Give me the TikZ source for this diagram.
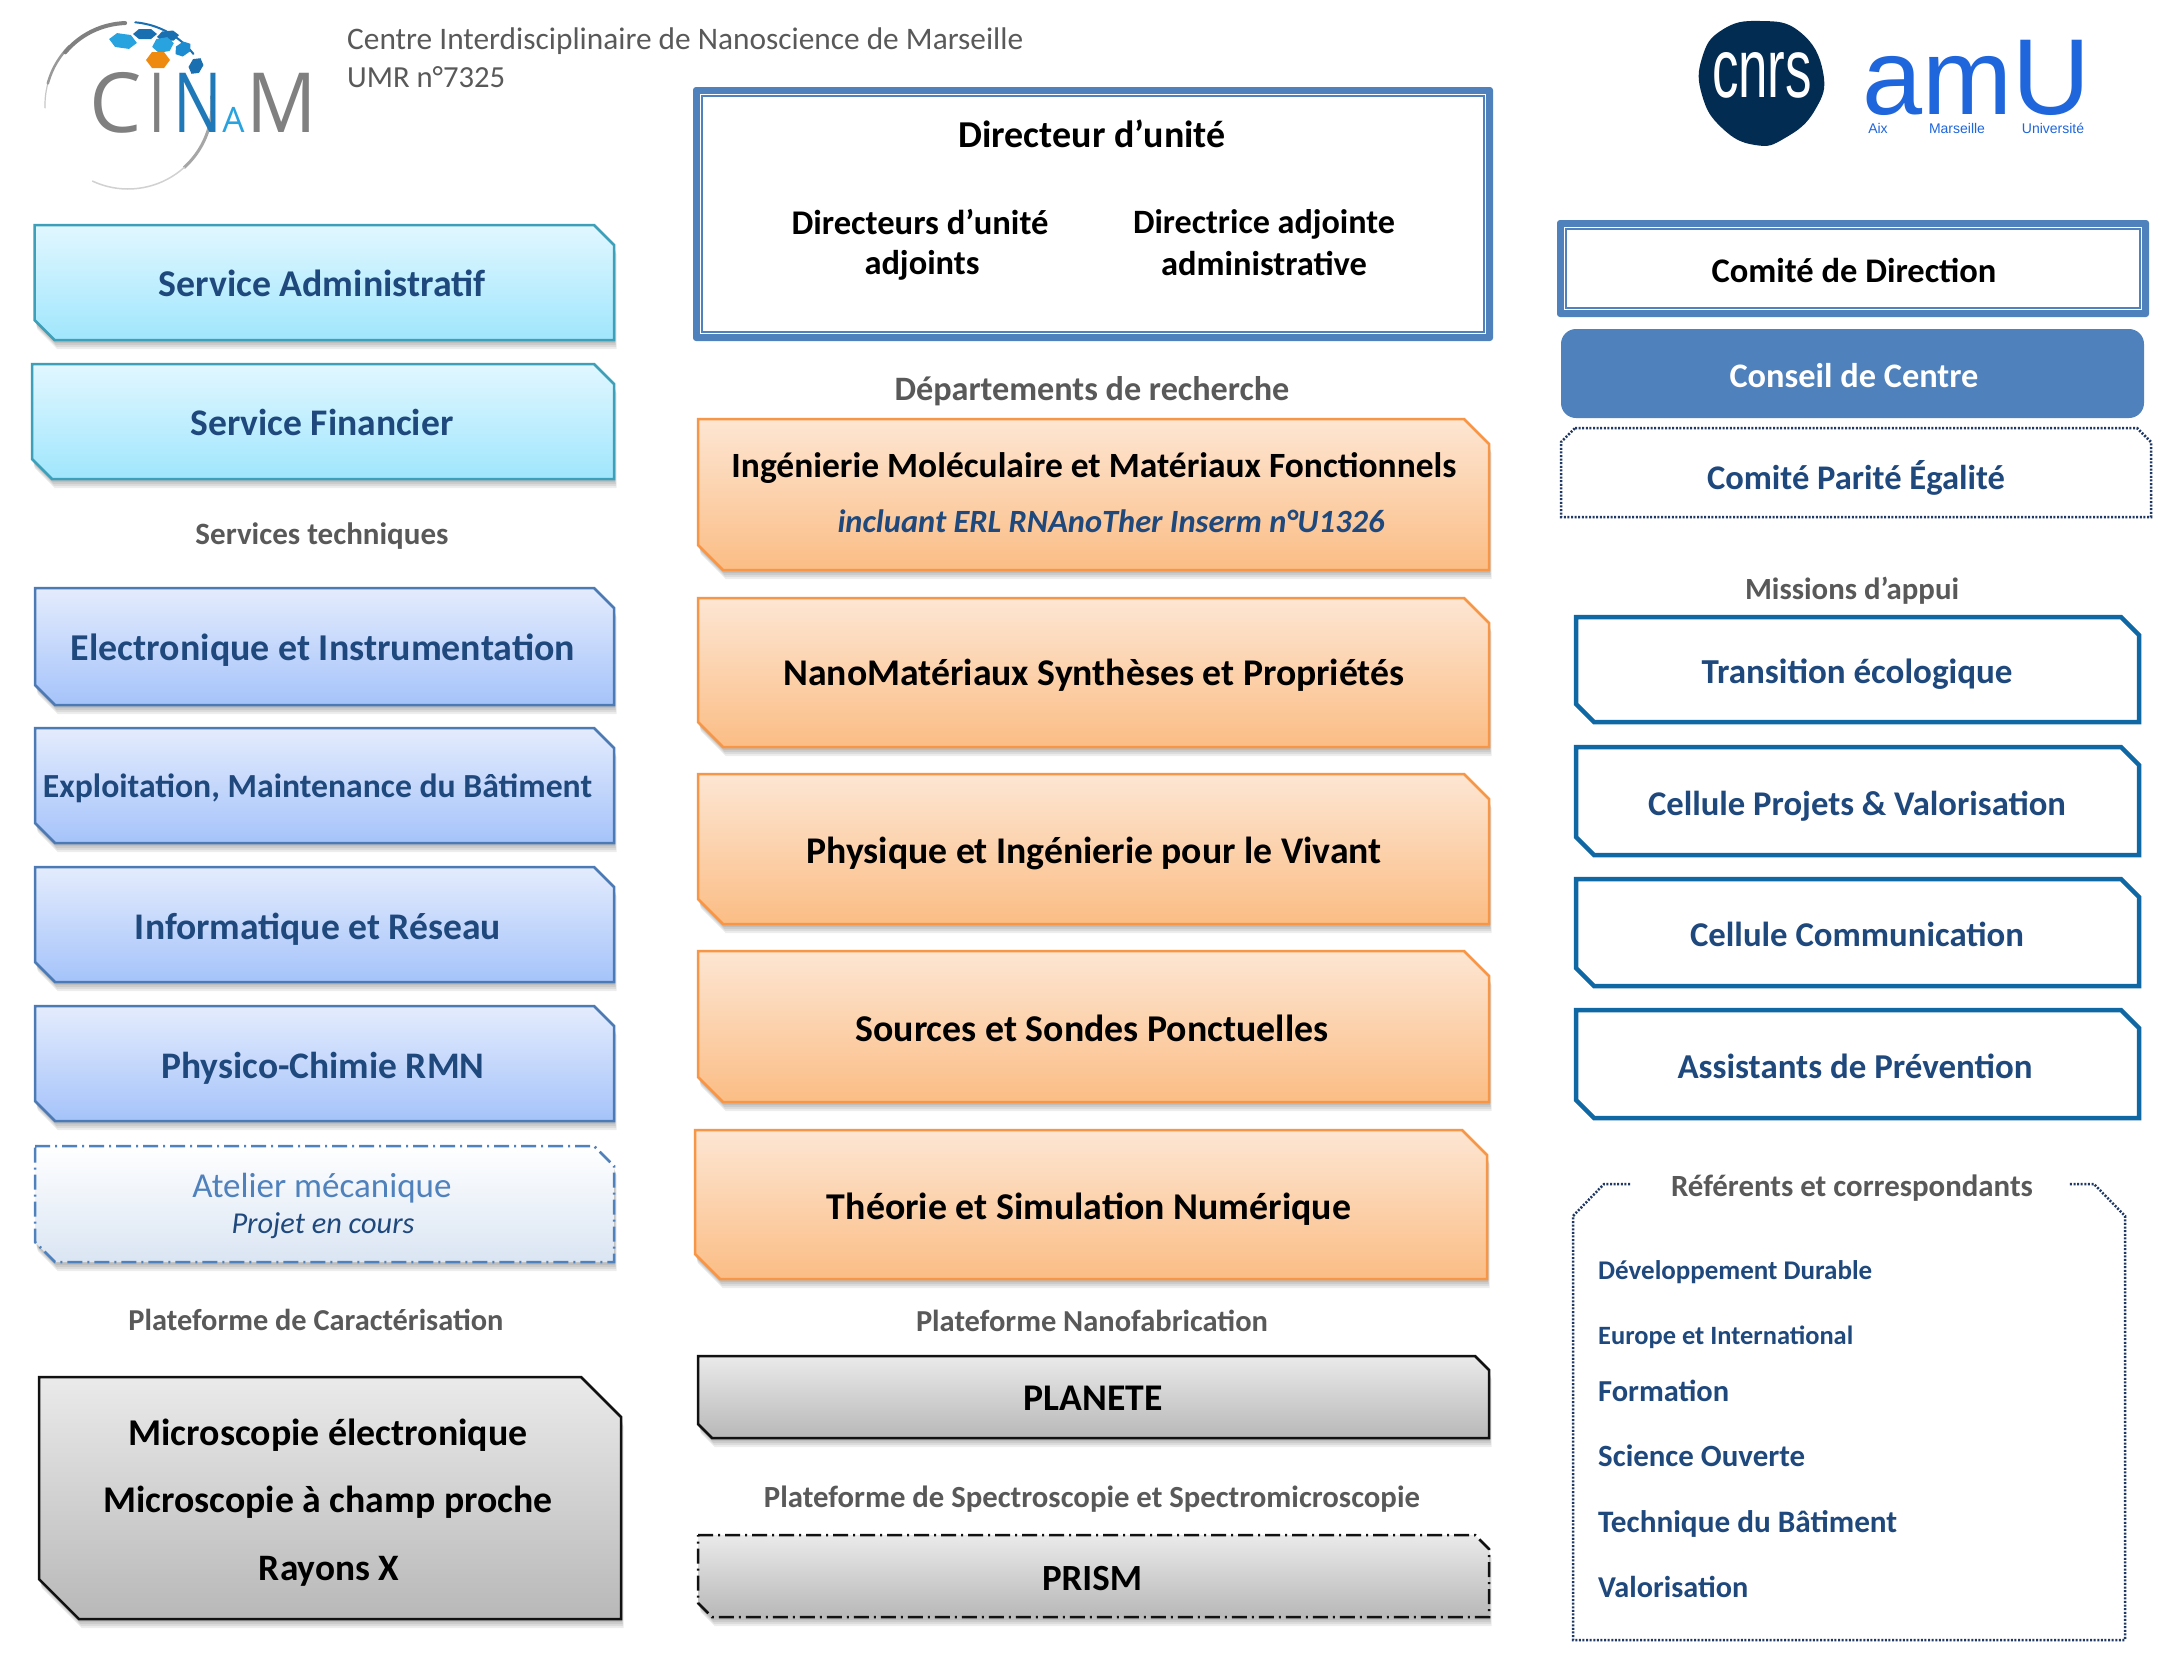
\documentclass[tikz,border=0pt]{standalone}
\usepackage{fontspec}
\usepackage{graphicx}
\setmainfont{Carlito}
\newfontfamily\arialf{Liberation Sans}
\newfontfamily\opensf{Open Sans}
\definecolor{navy}{HTML}{1F497D}
\definecolor{greytxt}{HTML}{595959}
\definecolor{frameblue}{HTML}{4F81BD}
\definecolor{teal}{HTML}{0F67A3}
\definecolor{dotnavy}{HTML}{1F3864}
\definecolor{amublue}{HTML}{1F66DC}
\definecolor{cnrsnavy}{HTML}{032C52}
\definecolor{cyantop}{HTML}{E1F7FF}
\definecolor{cyanbot}{HTML}{A0E6FD}
\definecolor{cyanedge}{HTML}{3EA0B8}
\definecolor{bluetop}{HTML}{E4ECFD}
\definecolor{bluebot}{HTML}{A5C3FA}
\definecolor{blueedge}{HTML}{4C7AB5}
\definecolor{atbot}{HTML}{DAE5F3}
\definecolor{ortop}{HTML}{FDE6D3}
\definecolor{orbot}{HTML}{FBBD85}
\definecolor{oredge}{HTML}{F79646}
\definecolor{grtop}{HTML}{EAEAEA}
\definecolor{grbot}{HTML}{B8B8B8}
\definecolor{gredge}{HTML}{111111}
\definecolor{logodark}{HTML}{1A6FB0}
\definecolor{logolight}{HTML}{29A3DF}
\definecolor{logomid}{HTML}{1C8BD0}
\definecolor{logoor}{HTML}{EE8A10}
\definecolor{logon}{HTML}{1F79B8}
\tikzset{
  base/.style={inner sep=0pt},
  bold/.style={base,font=\fontsize{30}{36}\selectfont\bfseries},
  regular/.style={base,font=\fontsize{30}{36}\selectfont},
  ital/.style={base,font=\fontsize{30}{36}\selectfont\itshape},
  boldital/.style={base,font=\fontsize{30}{36}\selectfont\bfseries\itshape},
  cyanbox/.style={top color=cyantop,bottom color=cyanbot,draw=cyanedge,line width=2.5pt},
  bluebox/.style={top color=bluetop,bottom color=bluebot,draw=blueedge,line width=2.5pt},
  atelierbox/.style={top color=white,bottom color=atbot,draw=frameblue,line width=2.5pt,dash pattern=on 15pt off 5pt on 2pt off 5pt},
  orangebox/.style={top color=ortop,bottom color=orbot,draw=oredge,line width=2.5pt},
  greybox/.style={top color=grtop,bottom color=grbot,draw=gredge,line width=2.5pt},
  greydash/.style={greybox,dash pattern=on 15pt off 5pt on 2pt off 5pt},
  whitebox/.style={draw=teal,line width=4.5pt,fill=white},
  dotline/.style={draw=dotnavy,line width=2.5pt,dash pattern=on 2pt off 1.6pt},
  logoarc/.style={line cap=round},
  logoletter/.style={base,anchor=base,font=\fontsize{83}{83}\selectfont\opensf},
}
\newcommand\snippath[5]{(#1,#2) -- ({#3-#5},#2) -- (#3,{#2+#5}) -- (#3,#4) -- ({#1+#5},#4) -- (#1,{#4-#5}) -- cycle}
% name, x1, y1, x2, y2, cut, style
\newcommand\snipbox[7]{%
  \foreach \s in {3,5,7,9}{\fill[black,opacity=.07,shift={(0.3*\s,\s)}] \snippath{#2}{#3}{#4}{#5}{#6};}
  \path[#7] \snippath{#2}{#3}{#4}{#5}{#6};
  \coordinate (#1) at ({(#2+#4)/2},{(#3+#5)/2});
}
% name, x, y, width, style, text
\newcommand\lab[6]{\node[#5] (#1) at (#2,#3) {\resizebox{#4pt}{!}{#6}};}
% name, x1,y1,x2,y2
\newcommand\dframe[5]{%
  \fill[frameblue,rounded corners=3pt] (#2,#3) rectangle (#4,#5);
  \fill[white] ({#2+7},{#3+7}) rectangle ({#4-7},{#5-7});
  \draw[frameblue,line width=1.3pt] ({#2+9},{#3+9}) rectangle ({#4-9},{#5-9});
  \coordinate (#1) at ({(#2+#4)/2},{(#3+#5)/2});
}
\newcommand\hexa[6]{% x,y,rx,ry,rot,colour
  \fill[#6,rotate around={#5:(#1,#2)}] ({#1-#3},#2) -- ({#1-0.5*#3},{#2-#4}) -- ({#1+0.5*#3},{#2-#4}) -- ({#1+#3},#2) -- ({#1+0.5*#3},{#2+#4}) -- ({#1-0.5*#3},{#2+#4}) -- cycle;
}
\begin{document}
\begin{tikzpicture}[x=1pt,y=-1pt]
\useasboundingbox (0,0) rectangle (2164,1666);
\fill[white] (0,0) rectangle (2164,1666);

% ---- CINaM logo
\draw[logoarc,black!22,line width=1.2pt] plot[domain=182:150,samples=20] ({128+83*cos(\x)},{105-83*sin(\x)});
\draw[logoarc,black!40,line width=2.5pt] plot[domain=165:135,samples=20] ({128+83*cos(\x)},{105-83*sin(\x)});
\draw[logoarc,black!50,line width=4pt] plot[domain=140:92,samples=20] ({128+82*cos(\x)},{105-82*sin(\x)});
\draw[logoarc,logodark,line width=2pt] plot[domain=85:38,samples=20] ({128+83*cos(\x)},{105-83*sin(\x)});
\draw[logoarc,black!35,line width=3pt] plot[domain=6:-48,samples=20] ({128+84*cos(\x)},{105-84*sin(\x)});
\draw[logoarc,black!18,line width=1.5pt] plot[domain=-48:-115,samples=20] ({128+84*cos(\x)},{105-84*sin(\x)});
\hexa{123}{41}{14}{7}{-8}{logolight}
\hexa{145}{34}{12}{5}{0}{logodark}
\hexa{168}{36}{11}{5}{5}{logodark}
\hexa{163}{45}{11}{7}{10}{logolight}
\hexa{183}{49}{9}{6}{35}{logomid}
\hexa{158}{60}{12}{8}{0}{logoor}
\hexa{196}{66}{9}{6}{60}{logodark}
\node[logoletter,text=black!50] (logoC) at (116,132) {C};
\node[logoletter,text=black!50] (logoI) at (157.5,132) {\scalebox{0.75}[1]{I}};
\node[logoletter,text=logon] (logoN) at (198,132) {\scalebox{0.78}[1]{N}};
\node[logoletter,text=logolight,font=\fontsize{35}{35}\selectfont\opensf] (logoA) at (233.5,132) {A};
\node[logoletter,text=black!50] (logoM) at (281.5,132) {\scalebox{0.94}[1]{M}};

% ---- header
\node[regular,text=greytxt,anchor=west] (hdrA) at (347,41) {\resizebox{676pt}{!}{Centre Interdisciplinaire de Nanoscience de Marseille}};
\node[regular,text=greytxt,anchor=west] (hdrB) at (347,77) {\resizebox{158pt}{!}{UMR n°7325}};

% ---- CNRS and AMU logos
\fill[cnrsnavy] plot[smooth cycle,tension=0.8] coordinates {(1760,21) (1800,32) (1823,72) (1815,110) (1785,138) (1755,145) (1722,128) (1702,95) (1702,58) (1722,30)};
\node[base,font=\arialf,text=white] (cnrs) at (1762,75.5) {\resizebox{100pt}{45pt}{cnrs}};
\node[base,font=\fontsize{100}{100}\selectfont\arialf,text=amublue,anchor=base west] (amu) at (1862,114) {\resizebox{228pt}{!}{amU}};
\node[base,font=\fontsize{14}{14}\selectfont\arialf,text=amublue] (amuA) at (1878,128) {Aix};
\node[base,font=\fontsize{14}{14}\selectfont\arialf,text=amublue] (amuB) at (1957,128) {Marseille};
\node[base,font=\fontsize{14}{14}\selectfont\arialf,text=amublue] (amuC) at (2053,128) {Université};

% ---- left column
\snipbox{boxSA}{34.5}{225}{614}{340}{20}{cyanbox}
\lab{txtSA}{322}{283}{327}{bold,text=navy}{Service Administratif}
\snipbox{boxSF}{32}{364}{614}{479}{20}{cyanbox}
\lab{txtSF}{322}{422}{263}{bold,text=navy}{Service Financier}
\lab{txtST}{322}{536}{253}{bold,text=greytxt}{Services techniques}
\snipbox{boxEI}{35}{588}{614}{705}{20}{bluebox}
\lab{txtEI}{323}{650}{504}{bold,text=navy}{Electronique et Instrumentation}
\snipbox{boxEM}{35}{728}{614}{843}{20}{bluebox}
\lab{txtEM}{317.5}{788}{549}{bold,text=navy}{Exploitation, Maintenance du Bâtiment}
\snipbox{boxIR}{35}{867}{614}{982}{20}{bluebox}
\lab{txtIR}{318}{929.5}{366}{bold,text=navy}{Informatique et Réseau}
\snipbox{boxPC}{35}{1006}{614}{1121}{20}{bluebox}
\lab{txtPC}{323}{1068}{323}{bold,text=navy}{Physico-Chimie RMN}
\snipbox{boxAM}{35}{1146}{614}{1262}{20}{atelierbox}
\lab{txtAM}{322}{1188}{259}{regular,text=frameblue}{Atelier mécanique}
\lab{txtPR}{323}{1226}{183}{ital,text=navy}{Projet en cours}
\lab{txtPCa}{316}{1320}{375}{bold,text=greytxt}{Plateforme de Caractérisation}
\snipbox{boxMI}{39}{1377}{621}{1619}{40}{greybox}
\lab{txtMa}{328}{1435}{399}{bold,text=black}{Microscopie électronique}
\lab{txtMb}{328}{1502}{449}{bold,text=black}{Microscopie à champ proche}
\lab{txtMc}{329}{1571}{140}{bold,text=black}{Rayons X}

% ---- centre column
\dframe{boxDU}{693}{87}{1493}{341}
\lab{txtDU}{1092}{134}{267}{bold,text=black}{Directeur d’unité}
\lab{txtDUa}{920}{222.5}{257}{bold,text=black}{Directeurs d’unité}
\lab{txtDUb}{922}{265}{115}{bold,text=black}{adjoints}
\lab{txtDAa}{1264}{224}{262}{bold,text=black}{Directrice adjointe}
\lab{txtDAb}{1264}{264}{206}{bold,text=black}{administrative}
\lab{txtDR}{1092}{391}{395}{bold,text=greytxt}{Départements de recherche}
\snipbox{boxO1}{698}{419}{1489}{570}{25}{orangebox}
\lab{txtO1}{1094}{468}{725}{bold,text=black}{Ingénierie Moléculaire et Matériaux Fonctionnels}
\lab{txtO1b}{1111}{521}{547}{boldital,text=navy}{incluant  ERL RNAnoTher Inserm n°U1326}
\snipbox{boxO2}{698}{598}{1489}{747}{25}{orangebox}
\lab{txtO2}{1094}{675}{621}{bold,text=black}{NanoMatériaux Synthèses et Propriétés}
\snipbox{boxO3}{698}{774}{1489}{924}{25}{orangebox}
\lab{txtO3}{1094}{853}{575}{bold,text=black}{Physique et Ingénierie pour le Vivant}
\snipbox{boxO4}{698}{951}{1489}{1102}{25}{orangebox}
\lab{txtO4}{1092}{1028}{473}{bold,text=black}{Sources et Sondes Ponctuelles}
\snipbox{boxO5}{695}{1130}{1487}{1279}{25}{orangebox}
\lab{txtO5}{1089}{1209}{524}{bold,text=black}{Théorie et Simulation Numérique}
\lab{txtPN}{1092}{1321}{352}{bold,text=greytxt}{Plateforme Nanofabrication}
\snipbox{boxPL}{698}{1356}{1489}{1438}{14}{greybox}
\lab{txtPL}{1093}{1398}{139}{bold,text=black}{PLANETE}
\lab{txtPS}{1092}{1499}{656}{bold,text=greytxt}{Plateforme de Spectroscopie et Spectromicroscopie}
\snipbox{boxPR}{698}{1535}{1489}{1617}{14}{greydash}
\lab{txtPRI}{1092}{1578}{100}{bold,text=black}{PRISM}

% ---- right column
\dframe{boxCD}{1557}{220}{2149}{317}
\lab{txtCD}{1854}{270}{285}{bold,text=black}{Comité de Direction}
\fill[frameblue,rounded corners=15pt] (1561,329) rectangle (2144,418);
\coordinate (boxCC) at (1852,373);
\lab{txtCC}{1854}{376}{249}{bold,text=white}{Conseil de Centre}
\path[dotline] (1575,428) -- (2137,428) -- (2151,442) -- (2151,517) -- (1561,517) -- (1561,442) -- cycle;
\coordinate (boxCP) at (1857,472);
\lab{txtCP}{1856}{478}{298}{bold,text=navy}{Comité Parité Égalité}
\lab{txtMA}{1852}{591}{214}{bold,text=greytxt}{Missions  d’appui}
\path[whitebox] \snippath{1576}{617}{2139}{722}{18};
\lab{txtW1}{1857}{674}{311}{bold,text=navy}{Transition écologique}
\path[whitebox] \snippath{1576}{747}{2139}{855}{18};
\lab{txtW2}{1857}{806}{418}{bold,text=navy}{Cellule Projets \& Valorisation}
\path[whitebox] \snippath{1576}{879}{2139}{986}{18};
\lab{txtW3}{1857}{934}{334}{bold,text=navy}{Cellule Communication}
\path[whitebox] \snippath{1576}{1010}{2139}{1118}{18};
\lab{txtW4}{1855}{1066}{355}{bold,text=navy}{Assistants de Prévention}
\path[dotline] (1630,1184) -- (1604,1184) -- (1573,1216) -- (1573,1640) -- (2125,1640) -- (2125,1216) -- (2094,1184) -- (2069,1184);
\lab{txtRC}{1852}{1188}{362}{bold,text=greytxt}{Référents et correspondants}
\tikzset{listitem/.style={bold,text=navy,anchor=west}}
\lab{li1}{1598}{1272}{274}{listitem}{Développement  Durable}
\lab{li2}{1598}{1337}{255}{listitem}{Europe  et International}
\lab{li3}{1598}{1391}{131}{listitem}{Formation}
\lab{li4}{1598}{1456}{207}{listitem}{Science  Ouverte}
\lab{li5}{1598}{1524}{299}{listitem}{Technique  du  Bâtiment}
\lab{li6}{1598}{1587}{150}{listitem}{Valorisation}
\end{tikzpicture}
\end{document}
